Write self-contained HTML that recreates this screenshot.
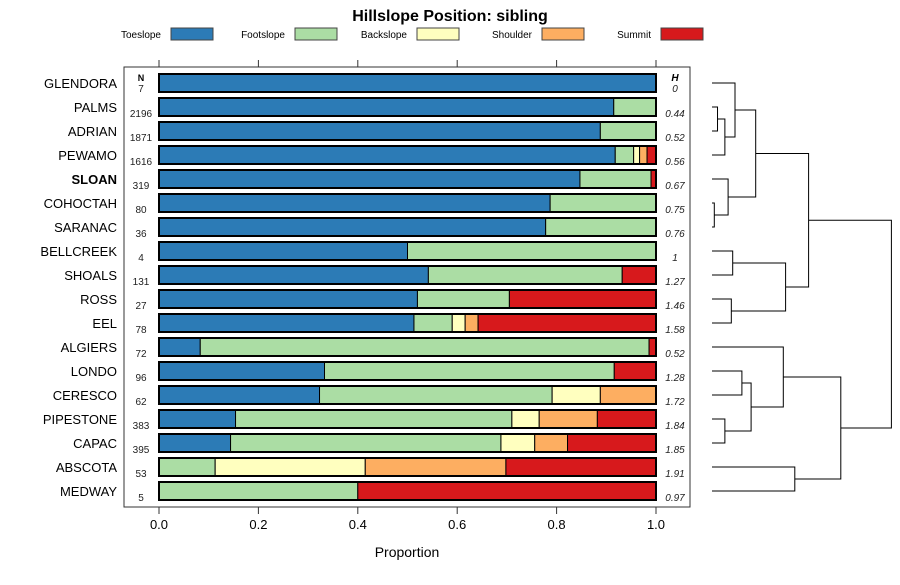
<!DOCTYPE html>
<html><head><meta charset="utf-8"><style>
body{margin:0;background:#fff;font-family:"Liberation Sans",sans-serif}
svg text{font-family:"Liberation Sans",sans-serif}
</style></head><body>
<svg id="c" width="900" height="580" xmlns="http://www.w3.org/2000/svg">
<text x="450" y="21" text-anchor="middle" font-size="16" font-weight="bold">Hillslope Position: sibling</text>
<g id="legend"></g>
<rect x="124" y="67" width="566" height="440" fill="none" stroke="#333" stroke-width="1"/>
<g id="bars"></g><g id="axes"></g><g id="dend" stroke="#000" fill="none" stroke-width="1"></g>
<text x="407" y="557" text-anchor="middle" font-size="14">Proportion</text>
</svg>
<script>
const categories=["GLENDORA","PALMS","ADRIAN","PEWAMO","SLOAN","COHOCTAH","SARANAC","BELLCREEK","SHOALS","ROSS","EEL","ALGIERS","LONDO","CERESCO","PIPESTONE","CAPAC","ABSCOTA","MEDWAY"];
const nValues=[7,2196,1871,1616,319,80,36,4,131,27,78,72,96,62,383,395,53,5];
const hValues=["0","0.44","0.52","0.56","0.67","0.75","0.76","1","1.27","1.46","1.58","0.52","1.28","1.72","1.84","1.85","1.91","0.97"];
const seriesNames=["Toeslope","Footslope","Backslope","Shoulder","Summit"];
const seriesColors=["#2c7bb6","#abdda4","#ffffbf","#fdae61","#d7191c"];
const toeslope=[1,.915,.888,.918,.847,.787,.778,.5,.542,.52,.513,.083,.333,.323,.154,.144,0,0];
const footslope=[0,.085,.112,.037,.143,.213,.222,.5,.39,.185,.077,.903,.583,.468,.556,.544,.113,.4];
const backslope=[0,0,0,.012,0,0,0,0,0,0,.026,0,0,.097,.055,.068,.302,0];
const shoulder=[0,0,0,.015,0,0,0,0,0,0,.026,0,0,.112,.117,.066,.283,0];
const summit=[0,0,0,.018,.01,0,0,0,.068,.295,.358,.014,.084,0,.118,.178,.302,.6];
const xTicks=[0,0.2,0.4,0.6,0.8,1.0];
const xTickLabels=["0.0","0.2","0.4","0.6","0.8","1.0"];
// dendrogram merges: [left node, right node, height]; leaves 0..17, merges numbered 18+
const merges=[[1,2,0.12],[18,3,0.28],[0,19,0.5],[5,6,0.05],[4,21,0.35],[20,22,0.95],[7,8,0.45],[9,10,0.42],[24,25,1.6],[23,26,2.1],[12,13,0.65],[14,15,0.28],[28,29,0.85],[11,30,1.55],[16,17,1.8],[31,32,2.8],[27,33,3.9]];
const NS="http://www.w3.org/2000/svg";
const svg=document.getElementById('c');
function mk(tag,attrs,parent){const e=document.createElementNS(NS,tag);for(const k in attrs)e.setAttribute(k,attrs[k]);parent.appendChild(e);return e;}
const X=v=>159+v*497;
const Y=i=>83+i*24;
const series=[toeslope,footslope,backslope,shoulder,summit];
// legend
const lg=document.getElementById('legend');
const lx=[163,287,409,534,653];
seriesNames.forEach((n,i)=>{
  const t=mk('text',{x:lx[i]-2,y:38,'text-anchor':'end','font-size':'10'},lg);t.textContent=n;
  
  
  const r=mk('rect',{x:lx[i]+8,y:28,width:42,height:12,fill:seriesColors[i],stroke:'#444','stroke-width':1},lg);
  
  
});
const bars=document.getElementById('bars');
mk('text',{x:141,y:81,'text-anchor':'middle','font-size':'9','font-weight':'bold'},bars).textContent='N';
mk('text',{x:675,y:81,'text-anchor':'middle','font-size':'10','font-weight':'bold','font-style':'italic'},bars).textContent='H';
categories.forEach((c,i)=>{
  const y=Y(i);
  const lab=mk('text',{x:117,y:y+5,'text-anchor':'end','font-size':'13','font-weight':c==='SLOAN'?'bold':'normal'},bars);
  lab.textContent=c;
  
  
  const nt=mk('text',{x:141,y:y+(i===0?9:10),'text-anchor':'middle','font-size':'10','fill':'#222'},bars);
  nt.textContent=nValues[i];
  
  
  const ht=mk('text',{x:675,y:y+(i===0?9:10),'text-anchor':'middle','font-size':'10','font-style':'italic','fill':'#222'},bars);
  ht.textContent=hValues[i];
  
  
  let cum=0;
  series.forEach((s,k)=>{
    const v=s[i]; if(v<=0)return;
    const r=mk('rect',{x:X(cum),y:y-9,width:X(cum+v)-X(cum),height:18,fill:seriesColors[k],stroke:'#000','stroke-width':1},bars);
    
    
    cum+=v;
  });
  const o=mk('rect',{x:X(0),y:y-9,width:X(1)-X(0),height:18,fill:'none',stroke:'#000','stroke-width':2},bars);
  
  
});
const ax=document.getElementById('axes');
xTicks.forEach((t,i)=>{
  mk('line',{x1:X(t),x2:X(t),y1:60,y2:67,stroke:'#333'},ax);
  mk('line',{x1:X(t),x2:X(t),y1:507,y2:514,stroke:'#333'},ax);
  const tl=mk('text',{x:X(t),y:529,'text-anchor':'middle','font-size':'13'},ax);
  tl.textContent=xTickLabels[i];
  
  
});
// dendrogram
const dg=document.getElementById('dend');
const H=h=>712+h*46;
const nodeY=categories.map((c,i)=>Y(i)), nodeH=categories.map(()=>0);
merges.forEach(([a,b,h])=>{
  const x=H(h);
  mk('path',{d:`M${H(nodeH[a])} ${nodeY[a]}H${x}V${nodeY[b]}H${H(nodeH[b])}`},dg);
  nodeY.push((nodeY[a]+nodeY[b])/2); nodeH.push(h);
});
</script>
</body></html>
